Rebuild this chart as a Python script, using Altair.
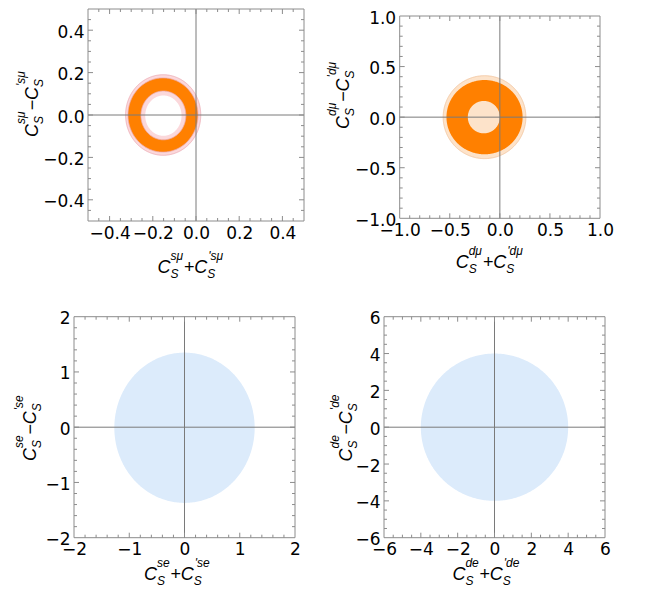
import altair as alt
import numpy as np
import pandas as pd

# ---------------- data ----------------
DOM = [[-0.5, 0.5], [-1.0, 1.0], [-2.0, 2.0], [-6.0, 6.0]]
MAJOR = [[-0.4, -0.2, 0.0, 0.2, 0.4],
         [-1.0, -0.5, 0.0, 0.5, 1.0],
         [-2, -1, 0, 1, 2],
         [-6, -4, -2, 0, 2, 4, 6]]
MINOR_STEP = [0.05, 0.1, 0.2, 0.5]
FMT = [".1f", ".1f", "d", "d"]
SUP = ["sμ", "dμ", "se", "de"]

# allowed regions (ellipses): centre x, centre y, half-width, half-height
P1_CX = [-0.152, -0.153, -0.151, -0.151]
P1_CY = [0.000, 0.000, -0.002, -0.003]
P1_RX = [0.174, 0.162, 0.104, 0.084]
P1_RY = [0.190, 0.175, 0.115, 0.095]

P2_CX = [-0.153, -0.153, -0.160]
P2_CY = [0.000, 0.000, 0.000]
P2_RX = [0.413, 0.380, 0.160]
P2_RY = [0.410, 0.367, 0.160]

P3_CX = [0.0]
P3_CY = [-0.01]
P3_RX = [1.27]
P3_RY = [1.36]

P4_CX = [0.0]
P4_CY = [0.0]
P4_RX = [4.0]
P4_RY = [4.0]

# ---------------- styles ----------------
PINK, PINK_EDGE = "#fbd8db", "#eba9b2"
ORANGE = "#ff8000"
PEACH, PEACH_EDGE = "#fde3ca", "#f1c49d"
BLUE = "#dcebfb"
WHITE = "#ffffff"
FRAME = "#8c8c8c"
AXLINE = "#7a7a7a"
TFONT = "Liberation Sans"
LFONT = "DejaVu Sans"

P1_STYLE = [(PINK, PINK_EDGE), (ORANGE, PINK_EDGE), (PINK, PINK_EDGE), (WHITE, None)]
P2_STYLE = [(PEACH, PEACH_EDGE), (ORANGE, None), (PEACH, None)]
P3_STYLE = [(BLUE, None)]
P4_STYLE = [(BLUE, None)]

# layout (pixels): cell size and frame rectangle inside the cell
CELL = [(230, 212), (216, 209.3), (221, 221), (221, 221)]
FRAME_RECT = [(14, 0, 216, 212), (15.7, 7, 200.3, 202.3), (0, 0, 221, 221), (0, 0, 221, 221)]
XT_START = [69.4, 56.0, 70.0, 68.4]      # x-title start from frame left
XT_BASE = [51.7, 49.4, 42.0, 42.0]       # x-title baseline below frame bottom
YT_X = [-50.0, -51.0, -38.0, -32.0]      # y-title baseline from frame left
YT_START = [128.0, 113.0, 144.3, 144.8]  # y-title start below frame top
LEFT_EXT = [0, 0, 65.3, 0]               # page-edge reservation

W_EM = {'C': 0.722, 'S': 0.667, 's': 0.5, 'μ': 0.576, 'd': 0.556, 'e': 0.556,
        '+': 0.584, '−': 0.584, "'": 0.191}


def tw(s, size):
    return sum(W_EM.get(ch, 0.55) for ch in s) * size


def math_pieces(sign, sup):
    M, Sm = 18, 12
    up, dn = -13, 5
    pieces = []
    pos = 0.0
    pieces.append(("C", M, pos, 0)); pos += tw("C", M)
    pieces.append((sup, Sm, pos, up)); pieces.append(("S", Sm, pos, dn))
    pos += max(tw(sup, Sm), tw("S", Sm)) + 0.5
    pieces.append((sign, M, pos, 0)); pos += tw(sign, M)
    pieces.append(("C", M, pos, 0)); pos += tw("C", M)
    pieces.append(("S", Sm, pos, dn)); pieces.append(("'" + sup, Sm, pos + 1, up))
    return pieces


def ellipse_df(cx, cy, rx, ry):
    t = np.linspace(0, np.pi, 181)
    return pd.DataFrame({"x": cx + rx * np.cos(t),
                         "y": cy + ry * np.sin(t),
                         "y2": cy - ry * np.sin(t)})


DUMMY = pd.DataFrame({"d": [0]})


def panel(i, cxs, cys, rxs, rys, styles):
    CW, CH = CELL[i]
    fx, fy, fw, fh = FRAME_RECT[i]
    dom = DOM[i]
    xs = alt.Scale(domain=dom, nice=False, zero=False, range=[fx, fx + fw])
    ys = alt.Scale(domain=dom, nice=False, zero=False, range=[fy + fh, fy])
    common = dict(values=MAJOR[i], format=FMT[i], ticks=False, domain=False, grid=False,
                  title=None, labelFontSize=17, labelColor="black", labelFont=LFONT,
                  labelFlush=False, labelOverlap=False)
    xa = alt.Axis(labelPadding=4, offset=-(CH - fy - fh), **common)
    ya = alt.Axis(labelPadding=4, offset=-fx, labelOffset=2, **common)
    X = lambda f: alt.X(f, scale=xs, axis=xa)
    Y = lambda f: alt.Y(f, scale=ys, axis=ya)

    layers = []
    for cx, cy, rx, ry, (fill, edge) in zip(cxs, cys, rxs, rys, styles):
        kw = dict(fill=fill, opacity=1, clip=True)
        if edge:
            kw.update(stroke=edge, strokeWidth=0.8)
        else:
            kw.update(strokeWidth=0)
        layers.append(alt.Chart(ellipse_df(cx, cy, rx, ry)).mark_area(**kw)
                      .encode(x=X("x:Q"), y=Y("y:Q"), y2="y2:Q"))

    zero = pd.DataFrame({"v": [0.0]})
    layers.append(alt.Chart(zero).mark_rule(color=AXLINE, strokeWidth=1)
                  .encode(x=X("v:Q"), y=alt.value(fy), y2=alt.value(fy + fh)))
    layers.append(alt.Chart(zero).mark_rule(color=AXLINE, strokeWidth=1)
                  .encode(y=Y("v:Q"), x=alt.value(fx), x2=alt.value(fx + fw)))

    # frame
    for (a, b, c, d) in [(fx, fy, fx + fw, fy), (fx, fy + fh, fx + fw, fy + fh),
                         (fx, fy, fx, fy + fh), (fx + fw, fy, fx + fw, fy + fh)]:
        layers.append(alt.Chart(DUMMY).mark_rule(color=FRAME, strokeWidth=1)
                      .encode(x=alt.value(a), y=alt.value(b), x2=alt.value(c), y2=alt.value(d)))

    # inward frame ticks
    step = MINOR_STEP[i]
    n = int(round((dom[1] - dom[0]) / step))
    allv = [round(dom[0] + k * step, 6) for k in range(1, n)]
    minor = [v for v in allv if all(abs(v - m) > 1e-9 for m in MAJOR[i])]
    major = [v for v in MAJOR[i] if dom[0] < v < dom[1]]
    for vals, ln in ((major, 5), (minor, 3)):
        df = pd.DataFrame({"v": vals})
        layers.append(alt.Chart(df).mark_rule(color=FRAME, strokeWidth=1)
                      .encode(x=X("v:Q"), y=alt.value(fy + fh), y2=alt.value(fy + fh - ln)))
        layers.append(alt.Chart(df).mark_rule(color=FRAME, strokeWidth=1)
                      .encode(x=X("v:Q"), y=alt.value(fy), y2=alt.value(fy + ln)))
        layers.append(alt.Chart(df).mark_rule(color=FRAME, strokeWidth=1)
                      .encode(y=Y("v:Q"), x=alt.value(fx), x2=alt.value(fx + ln)))
        layers.append(alt.Chart(df).mark_rule(color=FRAME, strokeWidth=1)
                      .encode(y=Y("v:Q"), x=alt.value(fx + fw), x2=alt.value(fx + fw - ln)))

    # axis titles (math typeset with text pieces)
    for txt, sz, along, perp in math_pieces("+", SUP[i]):
        layers.append(alt.Chart(DUMMY).mark_text(
            text=txt, fontSize=sz, font=TFONT, fontStyle="italic", align="left",
            baseline="alphabetic", color="black")
            .encode(x=alt.value(fx + XT_START[i] + along),
                    y=alt.value(fy + fh + XT_BASE[i] + perp)))
    for txt, sz, along, perp in math_pieces("−", SUP[i]):
        layers.append(alt.Chart(DUMMY).mark_text(
            text=txt, fontSize=sz, font=TFONT, fontStyle="italic", align="left",
            baseline="alphabetic", color="black", angle=270)
            .encode(x=alt.value(fx + YT_X[i] + perp), y=alt.value(fy + YT_START[i] - along)))

    if LEFT_EXT[i]:
        layers.append(alt.Chart(DUMMY).mark_rule(opacity=0, strokeWidth=0.1)
                      .encode(x=alt.value(-LEFT_EXT[i]), x2=alt.value(0), y=alt.value(CH / 2)))

    return alt.layer(*layers).properties(
        width=CW, height=CH,
        view=alt.ViewBackground(stroke="transparent", strokeWidth=0, fill="white"))


p1 = panel(0, P1_CX, P1_CY, P1_RX, P1_RY, P1_STYLE)
p2 = panel(1, P2_CX, P2_CY, P2_RX, P2_RY, P2_STYLE)
p3 = panel(2, P3_CX, P3_CY, P3_RX, P3_RY, P3_STYLE)
p4 = panel(3, P4_CX, P4_CY, P4_RX, P4_RY, P4_STYLE)

chart = alt.concat(p1, p2, p3, p4, columns=2).properties(
    bounds="flush", spacing={"row": 95.7, "column": 80}, padding=0
).configure_view(stroke="transparent", strokeWidth=0).configure(font=TFONT)

chart.save("out.html", embed_options={"renderer": "svg", "actions": False})
